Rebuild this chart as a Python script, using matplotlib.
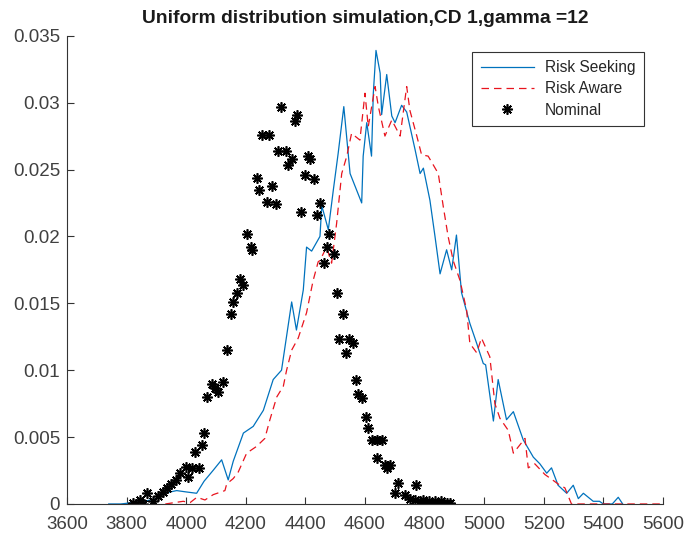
import matplotlib
matplotlib.use("Agg")
import matplotlib.pyplot as plt

# ── Data ─────────────────────────────────────────────────────────────────────
seek_x = [3740, 3780, 3820, 3860, 3900, 3925, 3968, 4000, 4035, 4060, 4090,
          4119, 4141, 4158, 4192, 4225, 4259, 4292, 4320, 4354, 4370, 4393,
          4404, 4421, 4449, 4455, 4477, 4494, 4510, 4529, 4550, 4589, 4594,
          4606, 4622, 4628, 4637, 4651, 4656, 4673, 4690, 4701, 4723, 4740,
          4768, 4785, 4796, 4818, 4835, 4852, 4874, 4891, 4907, 4924, 4952,
          4975, 4997, 5005, 5031, 5047, 5075, 5098, 5131, 5165, 5187, 5210,
          5226, 5248, 5277, 5299, 5316, 5333, 5366, 5387, 5400, 5430, 5450,
          5465]
seek_y = [0, 0, 0.0001, 0.0002, 0.0004, 0.0008, 0.0010, 0.0009, 0.0008,
          0.0017, 0.0025, 0.0033, 0.0018, 0.0032, 0.0053, 0.0058, 0.0070,
          0.0093, 0.0100, 0.0151, 0.0130, 0.0160, 0.0192, 0.0189, 0.0200,
          0.0223, 0.0205, 0.0235, 0.0262, 0.0297, 0.0247, 0.0225, 0.0260,
          0.0285, 0.0260, 0.0307, 0.0339, 0.0322, 0.0291, 0.0321, 0.0290,
          0.0285, 0.0298, 0.0293, 0.0265, 0.0247, 0.0251, 0.0227, 0.0200,
          0.0172, 0.0190, 0.0175, 0.0201, 0.0158, 0.0135, 0.0120, 0.0105,
          0.0104, 0.0062, 0.0093, 0.0063, 0.0069, 0.0048, 0.0035, 0.0030,
          0.0023, 0.0027, 0.0014, 0.0008, 0.0014, 0.0004, 0.0008, 0.0002,
          0.0002, 0, 0, 0.0005, 0]

aware_x = [3930, 3960, 3990, 4013, 4036, 4063, 4091, 4130, 4136, 4158, 4175,
           4203, 4236, 4264, 4281, 4304, 4326, 4337, 4354, 4376, 4404, 4426,
           4443, 4449, 4471, 4488, 4505, 4522, 4539, 4555, 4583, 4600, 4611,
           4634, 4645, 4667, 4690, 4718, 4740, 4751, 4774, 4790, 4812, 4846,
           4863, 4879, 4896, 4919, 4941, 4952, 4975, 4991, 5019, 5036, 5053,
           5081, 5098, 5137, 5148, 5170, 5204, 5248, 5271, 5293, 5350, 5400,
           5450, 5500, 5600]
aware_y = [0, 0.0001, 0.0002, 0.0001, 0.0005, 0.0003, 0.0007, 0.0010, 0.0015,
           0.0019, 0.0024, 0.0038, 0.0043, 0.0049, 0.0063, 0.0080, 0.0088,
           0.0100, 0.0115, 0.0124, 0.0143, 0.0167, 0.0181, 0.0182, 0.0192,
           0.0180, 0.0210, 0.0247, 0.0260, 0.0277, 0.0272, 0.0307, 0.0282,
           0.0312, 0.0297, 0.0275, 0.0287, 0.0275, 0.0312, 0.0294, 0.0275,
           0.0261, 0.0260, 0.0247, 0.0222, 0.0200, 0.0182, 0.0167, 0.0145,
           0.0120, 0.0113, 0.0124, 0.0110, 0.0075, 0.0064, 0.0055, 0.0038,
           0.0049, 0.0027, 0.0030, 0.0022, 0.0015, 0.0012, 0, 0, 0, 0, 0, 0]

nominal_x = [3822, 3830, 3845, 3856, 3870, 3890, 3906, 3921, 3935, 3948, 3966,
             3979, 4000, 4007, 4018, 4030, 4044, 4052, 4061, 4071, 4086, 4097,
             4108, 4124, 4138, 4149, 4158, 4169, 4181, 4190, 4203, 4216, 4222,
             4236, 4245, 4253, 4270, 4279, 4288, 4301, 4307, 4318, 4335, 4343,
             4354, 4365, 4373, 4384, 4399, 4410, 4415, 4430, 4438, 4449, 4462,
             4471, 4480, 4496, 4505, 4514, 4525, 4536, 4547, 4561, 4570, 4578,
             4589, 4603, 4611, 4622, 4639, 4641, 4656, 4667, 4675, 4684, 4701,
             4712, 4734, 4751, 4768, 4771, 4785, 4795, 4805, 4815, 4825, 4835,
             4845, 4855, 4865, 4875, 4885]
nominal_y = [0.0001, 0.0, 0.0003, 0.0, 0.0008, 0.0002, 0.0006, 0.0009, 0.0012,
             0.0015, 0.0018, 0.0023, 0.0028, 0.0020, 0.0027, 0.0039, 0.0027,
             0.0044, 0.0053, 0.0080, 0.0090, 0.0087, 0.0084, 0.0091, 0.0115,
             0.0142, 0.0151, 0.0158, 0.0168, 0.0164, 0.0202, 0.0192, 0.0190,
             0.0244, 0.0235, 0.0276, 0.0226, 0.0276, 0.0238, 0.0224, 0.0264,
             0.0297, 0.0264, 0.0253, 0.0258, 0.0286, 0.0291, 0.0218, 0.0246,
             0.0260, 0.0258, 0.0243, 0.0216, 0.0225, 0.0180, 0.0192, 0.0202,
             0.0187, 0.0158, 0.0123, 0.0142, 0.0113, 0.0123, 0.0120, 0.0093,
             0.0082, 0.0079, 0.0065, 0.0057, 0.0048, 0.0048, 0.0034, 0.0048,
             0.0029, 0.0027, 0.0029, 0.0008, 0.0016, 0.0007, 0.0004, 0.0003,
             0.0014, 0.0002, 0.0003, 0.0001, 0.0002, 0.0001, 0.0002, 0.0001,
             0.0002, 0.0001, 0.0001, 0.0001]

x_ticks = [3600, 3800, 4000, 4200, 4400, 4600, 4800, 5000, 5200, 5400, 5600]
y_ticks = [0, 0.005, 0.01, 0.015, 0.02, 0.025, 0.03, 0.035]
y_tick_labels = ["0", "0.005", "0.01", "0.015", "0.02", "0.025", "0.03", "0.035"]

# ── Plot ─────────────────────────────────────────────────────────────────────
plt.rcParams["font.family"] = ["Liberation Sans", "DejaVu Sans"]
axis_grey = "#333333"

fig = plt.figure(figsize=(6.85, 5.37), dpi=100)
ax = fig.add_axes([0.0978, 0.0615, 0.870, 0.872])

ax.plot(seek_x, seek_y, color="#0072BD", lw=0.9, label="Risk Seeking")
ax.plot(aware_x, aware_y, color="#E8141E", lw=0.9, ls=(0, (6, 4)),
        label="Risk Aware")
ax.plot(nominal_x, nominal_y, ls="none", marker=(8, 2, 0), ms=7.5, mew=1.2,
        color="black", label="Nominal")

ax.set_xlim(3600, 5600)
ax.set_ylim(0, 0.035)
ax.set_xticks(x_ticks)
ax.set_yticks(y_ticks)
ax.set_yticklabels(y_tick_labels)
ax.tick_params(direction="in", length=5, width=0.8, colors=axis_grey,
               labelsize=13.5, labelcolor="#404040")
ax.tick_params(axis="x", pad=9)
ax.tick_params(axis="y", pad=5)
for side in ("top", "right"):
    ax.spines[side].set_visible(False)
for side in ("left", "bottom"):
    ax.spines[side].set_color(axis_grey)
    ax.spines[side].set_linewidth(0.8)

ax.set_title("Uniform distribution simulation,CD 1,gamma =12",
             fontsize=13.9, fontweight="bold", color="#1a1a1a", pad=9)

leg = ax.legend(loc="upper right", bbox_to_anchor=(0.968, 0.966),
                borderaxespad=0, fontsize=11.2, handlelength=3.4,
                fancybox=False, framealpha=1, edgecolor="#333333",
                labelspacing=0.4, borderpad=0.55, handletextpad=0.7)
leg.get_frame().set_linewidth(0.8)
for t in leg.get_texts():
    t.set_color("#262626")

fig.savefig("out.png", dpi=100)
